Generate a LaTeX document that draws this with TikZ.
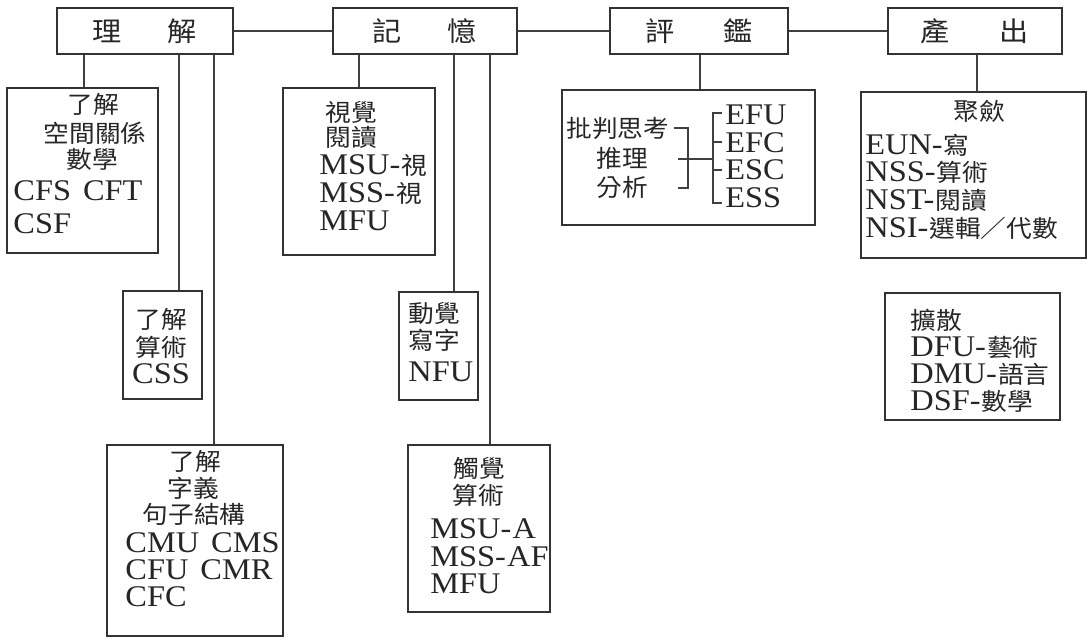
\documentclass[tikz,border=0pt]{standalone}
\usepackage{fontspec}
\setmainfont[FakeStretch=1.08]{Liberation Serif}
\newfontfamily\cjkf[FakeStretch=1.07]{Noto Sans CJK TC}
\newfontfamily\cjkT[FakeStretch=1.08]{Noto Sans CJK TC}
\newcommand\zh[1]{{\cjkf\fontsize{12}{13}\selectfont #1}}
\newcommand\zhT[1]{{\cjkT\fontsize{13.5}{15}\selectfont #1}}
\newcommand\hy{-\kern0.6pt}
\tikzset{
  box/.style={draw=black!80, line width=0.6pt, inner sep=0pt, rectangle},
  t/.style={inner sep=0pt, font=\fontsize{15}{17}\selectfont, text=black!85},
  ln/.style={draw=black!75, line width=0.6pt}
}
\newcommand\bx[5]{\node[box, minimum width={(#4-#2)*0.5pt}, minimum height={(#5-#3)*0.5pt}] (#1) at ({(#2+#4)/2},{(#3+#5)/2}) {};}
\newcommand\tx[5]{\node[t, anchor=#2] (#1) at (#3,{#4+9}) {#5};}
\begin{document}
\begin{tikzpicture}[x=0.5pt,y=-0.5pt]
\useasboundingbox[fill=white] (0,0) rectangle (1091,639);
% top row
\node[box, minimum width=88pt, minimum height=23pt, text=black!85] (li) at (145,31) {\zhT{理\hspace{23pt}解}};
\node[box, minimum width=92pt, minimum height=23pt, text=black!85] (ji) at (425,31) {\zhT{記\hspace{23pt}憶}};
\node[box, minimum width=89pt, minimum height=23pt, text=black!85] (pj) at (699,31) {\zhT{評\hspace{24pt}鑑}};
\node[box, minimum width=87pt, minimum height=23pt, text=black!85] (cc) at (975,31) {\zhT{產\hspace{25pt}出}};
\draw[ln] (li.east) -- (ji.west);
\draw[ln] (ji.east) -- (pj.west);
\draw[ln] (pj.east) -- (cc.west);
% child boxes
\bx{A}{7}{88}{158}{253}
\bx{B}{123}{291}{202}{399}
\bx{C}{107}{445}{283}{636}
\bx{D}{283}{88}{435}{255}
\bx{E}{399}{292}{478}{400}
\bx{F}{408}{445}{550}{612}
\bx{G}{562}{90}{815}{225}
\bx{H}{861}{92}{1086}{258}
\bx{I}{885}{293}{1060}{420}
% vertical connectors
\coordinate (xA) at (84,0);
\coordinate (xB) at (179,0);
\coordinate (xC) at (214,0);
\coordinate (xD) at (359,0);
\coordinate (xE) at (454,0);
\coordinate (xF) at (490,0);
\coordinate (xG) at (700,0);
\coordinate (xH) at (977,0);
\draw[ln] (xA |- li.south) -- (xA |- A.north);
\draw[ln] (xB |- li.south) -- (xB |- B.north);
\draw[ln] (xC |- li.south) -- (xC |- C.north);
\draw[ln] (xD |- ji.south) -- (xD |- D.north);
\draw[ln] (xE |- ji.south) -- (xE |- E.north);
\draw[ln] (xF |- ji.south) -- (xF |- F.north);
\draw[ln] (xG |- pj.south) -- (xG |- G.north);
\draw[ln] (xH |- cc.south) -- (xH |- H.north);
% A texts
\tx{a1}{base}{93}{104}{\zh{了解}}
\tx{a2}{base}{95}{133}{\zh{空間關係}}
\tx{a3}{base}{92}{159}{\zh{數學}}
\tx{a4}{base west}{13}{191}{CFS\hspace{6pt}CFT}
\tx{a5}{base west}{13}{224}{CSF}
% B texts
\tx{b1}{base}{161}{319}{\zh{了解}}
\tx{b2}{base}{161}{347}{\zh{算術}}
\tx{b3}{base}{161}{374}{CSS}
% C texts
\tx{c1}{base}{195}{461}{\zh{了解}}
\tx{c2}{base}{193}{488}{\zh{字義}}
\tx{c3}{base}{194}{514}{\zh{句子結構}}
\tx{c4}{base west}{125}{543}{CMU\hspace{6pt}CMS}
\tx{c5}{base west}{125}{570}{CFU\hspace{6pt}CMR}
\tx{c6}{base west}{125}{597}{CFC}
% D texts
\tx{d1}{base}{351}{112}{\zh{視覺}}
\tx{d2}{base}{351}{137}{\zh{閱讀}}
\tx{d3}{base west}{319}{165}{MSU\hy\zh{視}}
\tx{d4}{base west}{319}{193}{MSS\hy\zh{視}}
\tx{d5}{base west}{319}{221}{MFU}
% E texts
\tx{e1}{base west}{408}{313}{\zh{動覺}}
\tx{e2}{base west}{408}{340}{\zh{寫字}}
\tx{e3}{base west}{408}{372}{NFU}
% F texts
\tx{f1}{base}{479}{468}{\zh{觸覺}}
\tx{f2}{base}{478}{495}{\zh{算術}}
\tx{f3}{base west}{430}{529}{MSU\hy A}
\tx{f4}{base west}{430}{557}{MSS\hy AF}
\tx{f5}{base west}{430}{584}{MFU}
% G texts
\tx{g1}{base west}{566}{128}{\zh{批判思考}}
\tx{g2}{base}{622}{158}{\zh{推理}}
\tx{g3}{base}{622}{187}{\zh{分析}}
\tx{g4}{base west}{725}{115}{EFU}
\tx{g5}{base west}{725}{143}{EFC}
\tx{g6}{base west}{725}{170}{ESC}
\tx{g7}{base west}{725}{198}{ESS}
% G brackets
\draw[ln] (674,128) -- (688,128) -- (688,188) -- (678,188);
\draw[ln] (678,159) -- (713,159);
\draw[ln] (722,113) -- (713,113) -- (713,203) -- (722,203);
\draw[ln] (713,142) -- (722,142);
\draw[ln] (713,170) -- (722,170);
% H texts
\tx{h1}{base}{979}{111}{\zh{聚歛}}
\tx{h2}{base west}{865}{145}{EUN\hy\zh{寫}}
\tx{h3}{base west}{865}{172}{NSS\hy\zh{算術}}
\tx{h4}{base west}{865}{200}{NST\hy\zh{閱讀}}
\tx{h5}{base west}{865}{228}{NSI\hy\zh{選輯／代數}}
% I texts
\tx{i1}{base west}{910}{320}{\zh{擴散}}
\tx{i2}{base west}{910}{347}{DFU\hy\zh{藝術}}
\tx{i3}{base west}{910}{374}{DMU\hy\zh{語言}}
\tx{i4}{base west}{910}{401}{DSF\hy\zh{數學}}
\end{tikzpicture}
\end{document}
